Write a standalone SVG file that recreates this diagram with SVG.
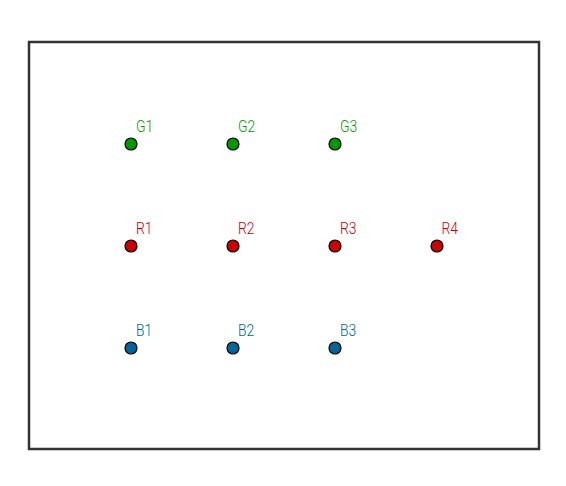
<svg xmlns="http://www.w3.org/2000/svg" width="566" height="486" viewBox="0 0 566 486">
<style>
.pt{stroke:#000;stroke-width:1.2}
.g{fill:#009900}
.r{fill:#cc0000}
.b{fill:#006699}
text{font-family:Roboto,"Liberation Sans",Arial,sans-serif;font-weight:300;font-size:16px}
</style>
<rect width="566" height="486" fill="#fff"/>
<g id="frame"><rect x="29" y="42" width="510" height="407" fill="none" stroke="#333" stroke-width="2.5"/></g>
<g id="connectors"></g>
<g id="G1"><circle class="pt g" cx="131" cy="144" r="6"/><text class="g" transform="translate(136 132) scale(0.87 1)">G1</text></g>
<g id="G2"><circle class="pt g" cx="233" cy="144" r="6"/><text class="g" transform="translate(238 132) scale(0.87 1)">G2</text></g>
<g id="G3"><circle class="pt g" cx="335" cy="144" r="6"/><text class="g" transform="translate(340 132) scale(0.87 1)">G3</text></g>
<g id="R1"><circle class="pt r" cx="131" cy="246" r="6"/><text class="r" transform="translate(136 234) scale(0.87 1)">R1</text></g>
<g id="R2"><circle class="pt r" cx="233" cy="246" r="6"/><text class="r" transform="translate(238 234) scale(0.87 1)">R2</text></g>
<g id="R3"><circle class="pt r" cx="335" cy="246" r="6"/><text class="r" transform="translate(340 234) scale(0.87 1)">R3</text></g>
<g id="R4"><circle class="pt r" cx="437" cy="246" r="6"/><text class="r" transform="translate(441.5 234) scale(0.87 1)">R4</text></g>
<g id="B1"><circle class="pt b" cx="131" cy="348" r="6"/><text class="b" transform="translate(136 336) scale(0.87 1)">B1</text></g>
<g id="B2"><circle class="pt b" cx="233" cy="348" r="6"/><text class="b" transform="translate(238 336) scale(0.87 1)">B2</text></g>
<g id="B3"><circle class="pt b" cx="335" cy="348" r="6"/><text class="b" transform="translate(340 336) scale(0.87 1)">B3</text></g>
</svg>
